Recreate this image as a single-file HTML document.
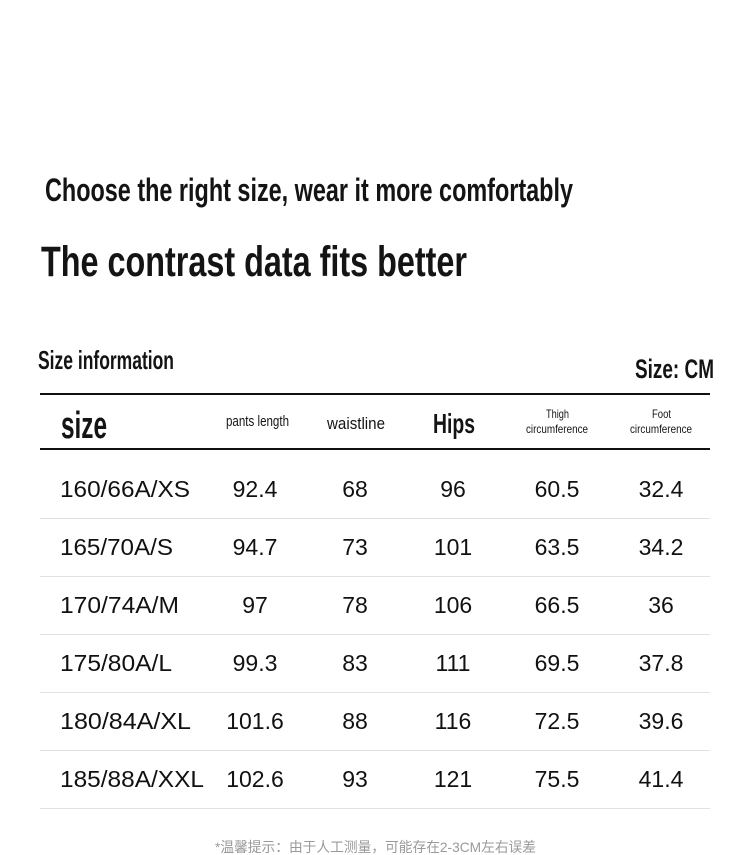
<!DOCTYPE html>
<html>
<head>
<meta charset="utf-8">
<style>
  html,body{margin:0;padding:0;background:#fff;}
  svg{display:block;}
  .c{font-family:"Liberation Sans","Noto Sans CJK SC",sans-serif;fill:#141414;}
  .d{font-family:"Liberation Sans","Noto Sans CJK SC",sans-serif;fill:#111;font-size:23px;}
</style>
</head>
<body>
<svg width="750" height="855" viewBox="0 0 750 855" xmlns="http://www.w3.org/2000/svg">
  <rect width="750" height="855" fill="#fff"/>

  <!-- Headlines -->
  <text class="c" x="45" y="201" font-size="32" font-weight="bold" textLength="528" lengthAdjust="spacingAndGlyphs">Choose the right size, wear it more comfortably</text>
  <text class="c" x="41" y="276" font-size="43" font-weight="bold" textLength="426" lengthAdjust="spacingAndGlyphs">The contrast data fits better</text>

  <text class="c" x="38" y="369" font-size="26" font-weight="bold" textLength="136" lengthAdjust="spacingAndGlyphs">Size information</text>
  <text class="c" x="635" y="378" font-size="27" font-weight="bold" textLength="79" lengthAdjust="spacingAndGlyphs">Size: CM</text>

  <!-- header lines -->
  <rect x="40" y="393" width="670" height="2" fill="#111"/>
  <rect x="40" y="448" width="670" height="2" fill="#111"/>

  <!-- header labels -->
  <text class="c" x="61" y="438" font-size="38" font-weight="bold" textLength="46" lengthAdjust="spacingAndGlyphs">size</text>
  <text class="c" x="226" y="426" font-size="15" textLength="63" lengthAdjust="spacingAndGlyphs">pants length</text>
  <text class="c" x="327" y="429" font-size="17" textLength="58" lengthAdjust="spacingAndGlyphs">waistline</text>
  <text class="c" x="433" y="433" font-size="28" font-weight="bold" textLength="42" lengthAdjust="spacingAndGlyphs">Hips</text>
  <text class="c" x="546" y="418" font-size="12" textLength="23" lengthAdjust="spacingAndGlyphs">Thigh</text>
  <text class="c" x="526" y="433" font-size="12" textLength="62" lengthAdjust="spacingAndGlyphs">circumference</text>
  <text class="c" x="652" y="418" font-size="12" textLength="19" lengthAdjust="spacingAndGlyphs">Foot</text>
  <text class="c" x="630" y="433" font-size="12" textLength="62" lengthAdjust="spacingAndGlyphs">circumference</text>

  <!-- row separators -->
  <g fill="#e2e2e2">
    <rect x="40" y="518" width="670" height="1"/>
    <rect x="40" y="576" width="670" height="1"/>
    <rect x="40" y="634" width="670" height="1"/>
    <rect x="40" y="692" width="670" height="1"/>
    <rect x="40" y="750" width="670" height="1"/>
    <rect x="40" y="808" width="670" height="1"/>
  </g>

  <!-- rows -->
  <g class="d">
    <text x="60" y="497" textLength="130" lengthAdjust="spacingAndGlyphs">160/66A/XS</text>
    <text x="255" y="497" text-anchor="middle">92.4</text>
    <text x="355" y="497" text-anchor="middle">68</text>
    <text x="453" y="497" text-anchor="middle">96</text>
    <text x="557" y="497" text-anchor="middle">60.5</text>
    <text x="661" y="497" text-anchor="middle">32.4</text>

    <text x="60" y="555" textLength="113" lengthAdjust="spacingAndGlyphs">165/70A/S</text>
    <text x="255" y="555" text-anchor="middle">94.7</text>
    <text x="355" y="555" text-anchor="middle">73</text>
    <text x="453" y="555" text-anchor="middle">101</text>
    <text x="557" y="555" text-anchor="middle">63.5</text>
    <text x="661" y="555" text-anchor="middle">34.2</text>

    <text x="60" y="613" textLength="119" lengthAdjust="spacingAndGlyphs">170/74A/M</text>
    <text x="255" y="613" text-anchor="middle">97</text>
    <text x="355" y="613" text-anchor="middle">78</text>
    <text x="453" y="613" text-anchor="middle">106</text>
    <text x="557" y="613" text-anchor="middle">66.5</text>
    <text x="661" y="613" text-anchor="middle">36</text>

    <text x="60" y="671" textLength="112" lengthAdjust="spacingAndGlyphs">175/80A/L</text>
    <text x="255" y="671" text-anchor="middle">99.3</text>
    <text x="355" y="671" text-anchor="middle">83</text>
    <text x="453" y="671" text-anchor="middle">111</text>
    <text x="557" y="671" text-anchor="middle">69.5</text>
    <text x="661" y="671" text-anchor="middle">37.8</text>

    <text x="60" y="729" textLength="131" lengthAdjust="spacingAndGlyphs">180/84A/XL</text>
    <text x="255" y="729" text-anchor="middle">101.6</text>
    <text x="355" y="729" text-anchor="middle">88</text>
    <text x="453" y="729" text-anchor="middle">116</text>
    <text x="557" y="729" text-anchor="middle">72.5</text>
    <text x="661" y="729" text-anchor="middle">39.6</text>

    <text x="60" y="787" textLength="144" lengthAdjust="spacingAndGlyphs">185/88A/XXL</text>
    <text x="255" y="787" text-anchor="middle">102.6</text>
    <text x="355" y="787" text-anchor="middle">93</text>
    <text x="453" y="787" text-anchor="middle">121</text>
    <text x="557" y="787" text-anchor="middle">75.5</text>
    <text x="661" y="787" text-anchor="middle">41.4</text>
  </g>

  <!-- footnote -->
  <text x="215" y="852" font-family="'Liberation Sans','Noto Sans CJK SC',sans-serif" font-size="14" fill="#9a9a9a" textLength="321" lengthAdjust="spacingAndGlyphs">*温馨提示：由于人工测量，可能存在2-3CM左右误差</text>
</svg>
</body>
</html>
